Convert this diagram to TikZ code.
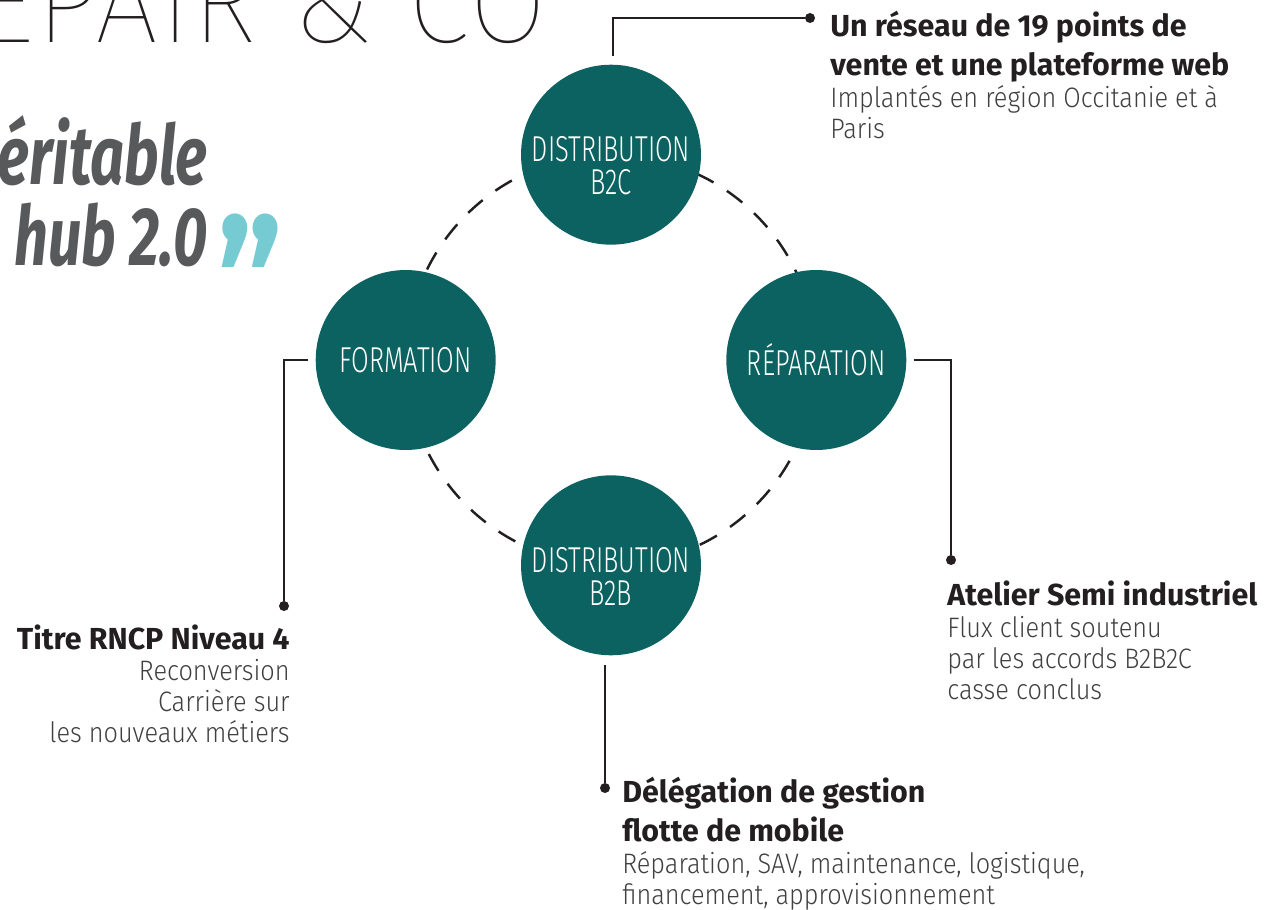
\documentclass[tikz,border=0pt]{standalone}
\usepackage{fontspec}
\usetikzlibrary{positioning}
\setmainfont{Fira Sans}
% light and thin faces, with fallbacks
\newcommand\lightname{Fira Sans}
\IfFontExistsTF{FiraSans-Light.otf}{\renewcommand\lightname{FiraSans-Light.otf}}{}
\IfFontExistsTF{Fira Sans Light}{\renewcommand\lightname{Fira Sans Light}}{}
\newcommand\thinname{\lightname}
\IfFontExistsTF{DejaVu Sans ExtraLight}{\renewcommand\thinname{DejaVu Sans ExtraLight}}{}
\IfFontExistsTF{Fira Sans ExtraLight}{\renewcommand\thinname{Fira Sans ExtraLight}}{}
\IfFontExistsTF{Fira Sans Thin}{\renewcommand\thinname{Fira Sans Thin}}{}
\newfontfamily\lightfont{\lightname}[FakeStretch=0.9]
\newfontfamily\circfont{\lightname}[FakeStretch=0.71]
\newfontfamily\thinfont{\thinname}[FakeStretch=0.97, LetterSpace=2]
\newfontfamily\headfont{Fira Sans}
\newfontfamily\titlefont{Fira Sans}[FakeStretch=0.72]
\newfontfamily\quotefont{Fira Sans}[FakeStretch=0.84]
\newcommand\liftline{\rule{0pt}{0.94cm}}
\definecolor{hubteal}{RGB}{12,98,97}
\definecolor{inkdark}{RGB}{35,31,32}
\definecolor{titlegray}{RGB}{88,89,91}
\definecolor{quotecyan}{RGB}{118,203,211}
\definecolor{bodygray}{RGB}{64,64,64}

\begin{document}
\begin{tikzpicture}[x=0.02cm, y=-0.02cm,
    unit/.style={circle, fill=hubteal, text=white, minimum size=3.6cm, inner sep=0pt, align=center,
        font=\circfont\fontsize{20.5}{18.7}\selectfont},
    ring/.style={draw=inkdark, line width=1.4pt, dash pattern=on 11pt off 9pt},
    link/.style={draw=inkdark, line width=1.4pt},
    dot/.style={circle, fill=inkdark, inner sep=0pt, minimum size=5.7pt},
    head/.style={inner sep=0pt, text=inkdark, font=\headfont\bfseries\fontsize{17.3}{22}\selectfont},
    body/.style={inner sep=0pt, text=bodygray, font=\lightfont\fontsize{16}{17.6}\selectfont}]

    \useasboundingbox (0,0) rectangle (1273,909);
    \clip (0,0) rectangle (1273,909);

    % Title, cut by the page edge
    \node[anchor=base east, inner sep=0pt, text=inkdark, font=\thinfont\fontsize{66}{66}\selectfont] (brand) at (547,43) {REPAIR \& CO};
    \node[anchor=base east, inner sep=0pt, text=titlegray, font=\titlefont\bfseries\itshape\fontsize{47}{47}\selectfont] (sloganTop) at (208,184) {éritable};
    \node[anchor=base east, inner sep=0pt, text=titlegray, font=\titlefont\bfseries\itshape\fontsize{47}{47}\selectfont] (sloganBot) at (208,265) {hub 2.0};
    \node[anchor=base west, inner sep=0pt, text=quotecyan, font=\quotefont\bfseries\fontsize{100}{100}\selectfont] (quote) at (217,348) {”};

    % Ring of activities
    \coordinate (hub) at (611,360);
    \draw[ring] (hub) circle[radius=205];
    \node[unit, above=2.3cm of hub] (b2c) {\liftline DISTRIBUTION\\B2C};
    \node[unit, left=2.3cm of hub] (formation) {FORMATION};
    \node[unit, right=2.3cm of hub] (reparation) {RÉPARATION};
    \node[unit, below=2.3cm of hub] (b2b) {\liftline DISTRIBUTION\\B2B};

    % Leaders
    \node[dot] (dotB2C) at (810,18) {};
    \draw[link] (b2c.north) ++(2,-8) |- (dotB2C);
    \node[dot] (dotForm) at (284,606) {};
    \draw[link] (formation.west) ++(-7,0) -| (dotForm);
    \node[dot] (dotRep) at (951,560) {};
    \draw[link] (reparation.east) ++(7,0) -| (dotRep);
    \node[dot] (dotB2B) at (605,788) {};
    \draw[link] (dotB2B |- b2b.south) ++(0,9) -- (dotB2B);

    % Texts
    \node[head, anchor=north west, align=left] (reseauHead) at (830,11) {Un réseau de 19 points de\\vente et une plateforme web};
    \node[body, anchor=north west, align=left] (reseauBody) at (830,85) {Implantés en région Occitanie et à\\Paris};
    \node[head, anchor=north east, align=right] (rncpHead) at (290,624) {Titre RNCP Niveau 4};
    \node[body, anchor=north east, align=right] (rncpBody) at (290,659) {Reconversion\\Carrière sur\\les nouveaux métiers};
    \node[head, anchor=north west, align=left] (atelierHead) at (947,580) {Atelier Semi industriel};
    \node[body, anchor=north west, align=left] (atelierBody) at (947,616) {Flux client soutenu\\par les accords B2B2C\\casse conclus};
    \node[head, anchor=north west, align=left] (flotteHead) at (622,777) {Délégation de gestion\\flotte de mobile};
    \node[body, anchor=north west, align=left] (flotteBody) at (622,851) {Réparation, SAV, maintenance, logistique,\\financement, approvisionnement};

\end{tikzpicture}
\end{document}
